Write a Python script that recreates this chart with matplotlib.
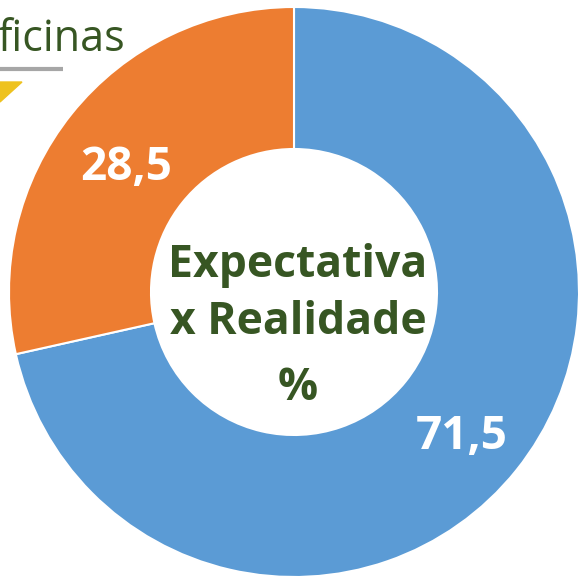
import matplotlib
matplotlib.use("Agg")
import matplotlib.pyplot as plt
from matplotlib.patches import Polygon

# dados
categorias = ["Realidade", "Expectativa"]
valores = [71.5, 28.5]
cores = ["#5B9BD5", "#ED7D31"]
linhas_centro = ["Expectativa", "x Realidade", "%"]
titulo_corte = "ficinas"

VERDE = "#375623"
W, H = 578, 576
cx, cy = 294, H - 292
raio = 285


def fmt(p):
    return f"{p:.1f}".replace(".", ",")


fig = plt.figure(figsize=(W / 100, H / 100), dpi=100)
ax = fig.add_axes([0, 0, 1, 1])

# fragmento do titulo atras do grafico
ax.text(-3, H - 51, titulo_corte, fontsize=31, color=VERDE,
        family="Open Sans", ha="left", va="baseline", zorder=0)
ax.plot([0, 63], [H - 69, H - 69], color="#A6A6A6", lw=3,
        solid_capstyle="butt", zorder=0)
ax.add_patch(Polygon([[0, H - 82], [22, H - 82], [0, H - 102]],
                     closed=True, color="#EEC21F", zorder=0))

wedges, textos, autotextos = ax.pie(
    valores,
    colors=cores,
    center=(cx, cy),
    radius=raio,
    startangle=90,
    counterclock=False,
    autopct=fmt,
    pctdistance=0.755,
    wedgeprops=dict(width=142, edgecolor="white", linewidth=1.5),
    textprops=dict(color="white", fontsize=33, fontweight="bold",
                   family="Open Sans"),
    frame=True,
)
for t in autotextos:
    x, y = t.get_position()
    t.set_position((x, y - 10))

ax.set_xlim(0, W)
ax.set_ylim(0, H)
ax.set_aspect("equal")
ax.axis("off")

for linha, yy in zip(linhas_centro, [260, 317, 383]):
    ax.text(cx + 4, H - yy, linha, ha="center", va="center_baseline",
            fontsize=32, fontweight="bold", color=VERDE, family="Open Sans")

fig.savefig("out.png", dpi=100)
